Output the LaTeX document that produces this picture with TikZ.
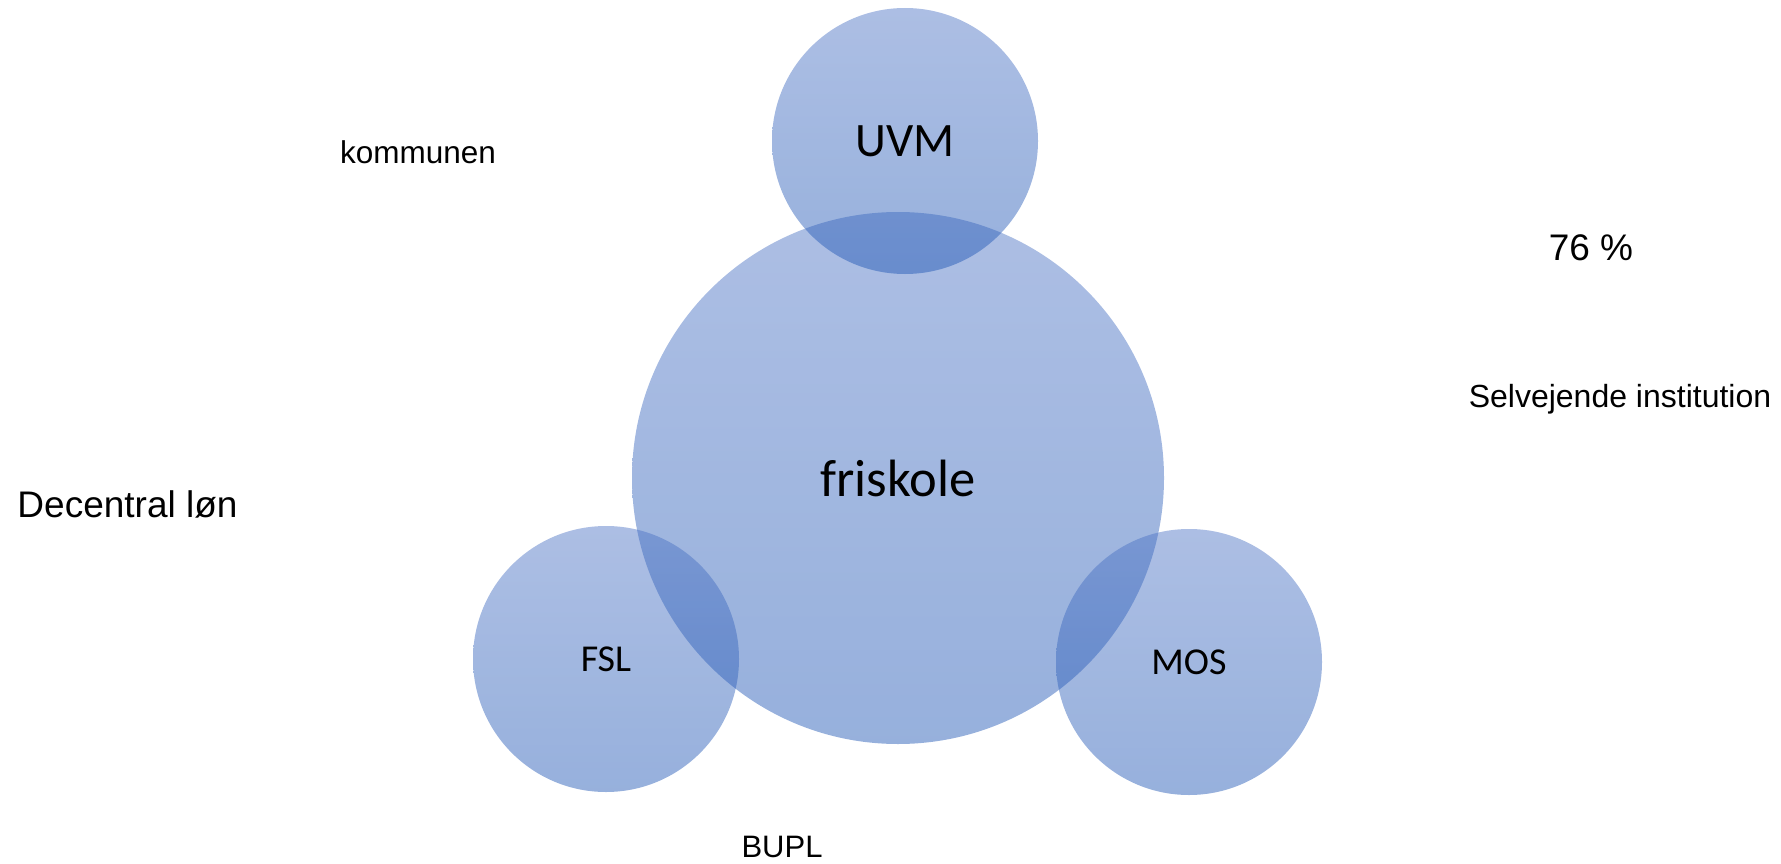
\documentclass[tikz,border=0pt]{standalone}
\usepackage{fontspec}
\setmainfont{Liberation Sans}
\newfontfamily\calib{Carlito}
\definecolor{bubtop}{RGB}{75,114,196}
\definecolor{bubbot}{RGB}{27,83,179}
\begin{document}
\begin{tikzpicture}[x=1pt,y=-1pt,
  bub/.style={circle, inner sep=0pt, top color=bubtop, bottom color=bubbot, fill opacity=0.46, text opacity=1, draw=none, font=\calib},
  lbl/.style={anchor=base, inner sep=0pt}]
\path[use as bounding box] (0,0) rectangle (1781,864);
\node[bub, minimum size=532pt, font=\calib\fontsize{52.5}{60}\selectfont] (fri) at (898,478) {friskole};
\node[bub, minimum size=266pt, font=\calib\fontsize{48}{56}\selectfont] (uvm) at (905,141) {UVM};
\node[bub, minimum size=266pt, font=\calib\fontsize{38}{45}\selectfont] (fsl) at (606,659) {FSL};
\node[bub, minimum size=266pt, font=\calib\fontsize{38}{45}\selectfont] (mos) at (1189,662) {MOS};
\node[lbl, font=\fontsize{31.5}{38}\selectfont] (kom) at (418,164) {kommunen};
\node[lbl, font=\fontsize{37}{44}\selectfont] (dec) at (127.5,517) {Decentral løn};
\node[lbl, font=\fontsize{31}{37}\selectfont] (bupl) at (782,857) {BUPL};
\node[lbl, font=\fontsize{32}{38}\selectfont] (selv) at (1620,407) {Selvejende institution};
\node[lbl, font=\fontsize{37}{44}\selectfont] (pct) at (1591,260) {76 \%};
\end{tikzpicture}
\end{document}
